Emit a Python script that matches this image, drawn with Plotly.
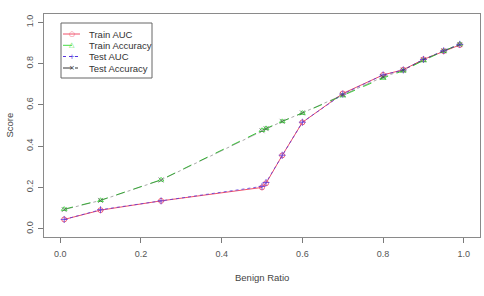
import plotly.graph_objects as go

benign_ratio = [0.01, 0.1, 0.25, 0.5, 0.51, 0.55, 0.6, 0.7, 0.8, 0.85, 0.9, 0.95, 0.99]
train_auc = [0.045, 0.09, 0.135, 0.2, 0.22, 0.355, 0.515, 0.655, 0.745, 0.77, 0.82, 0.86, 0.89]
train_acc = [0.095, 0.138, 0.237, 0.477, 0.486, 0.52, 0.56, 0.645, 0.73, 0.765, 0.815, 0.86, 0.895]
test_auc = [0.045, 0.092, 0.135, 0.205, 0.224, 0.356, 0.516, 0.652, 0.745, 0.769, 0.82, 0.862, 0.893]
test_acc = [0.093, 0.137, 0.236, 0.475, 0.485, 0.52, 0.561, 0.648, 0.735, 0.768, 0.818, 0.862, 0.892]
tick_vals = [0.0, 0.2, 0.4, 0.6, 0.8, 1.0]
tick_text = ["0.0", "0.2", "0.4", "0.6", "0.8", "1.0"]

# name, values, line colour, dash, symbol, legend glyph, line width, opacity
series = [
    ("Train AUC", train_auc, "#f0506a", "solid", "circle-open", "○", 1.0, 1.0),
    ("Train Accuracy", train_acc, "#44dd44", "dash", "triangle-up-open", "△", 1.0, 1.0),
    ("Test AUC", test_auc, "#5533dd", "dot", "cross-thin-open", "+", 0.9, 0.85),
    ("Test Accuracy", test_acc, "#333333", "dashdot", "x-thin-open", "×", 0.7, 0.6),
]

W, H = 484, 296
L, R, T, B = 44, 4, 14, 59
PW, PH = W - L - R, H - T - B

def px(x):
    return (x - L) / PW

def py(y):
    return 1 - (y - T) / PH

fig = go.Figure()
for name, vals, col, dash, sym, _, lw, op in series:
    fig.add_trace(go.Scatter(
        x=benign_ratio, y=vals, mode="lines+markers", name=name,
        line=dict(color=col, width=lw, dash=dash), opacity=op,
        marker=dict(symbol=sym, size=5, color=col, line=dict(color=col, width=0.9)),
        showlegend=False,
    ))

axis_common = dict(
    showgrid=False, zeroline=False, showline=True, mirror=True,
    linecolor="#8a8a8a", linewidth=1, ticks="outside", ticklen=5,
    tickcolor="#7a7a7a", tickfont=dict(family="Liberation Sans, Arial", size=9, color="#555555"),
    tickvals=tick_vals, ticktext=tick_text,
)
fig.update_xaxes(range=[-0.04, 1.04], ticklabelstandoff=3, **axis_common)
fig.update_yaxes(range=[-0.04, 1.04], tickangle=-90, ticklabelstandoff=1, **axis_common)

shapes = []
annotations = []
# legend box
shapes.append(dict(type="rect", xref="paper", yref="paper",
                   x0=px(61), x1=px(152), y0=py(78), y1=py(23),
                   line=dict(color="#666666", width=1), fillcolor="white"))
rows = [34, 45.3, 56.5, 68]
for (name, vals, col, dash, sym, glyph, lw, op), ry in zip(series, rows):
    shapes.append(dict(type="line", xref="paper", yref="paper",
                       x0=px(63), x1=px(80), y0=py(ry), y1=py(ry),
                       line=dict(color=col, width=1, dash=dash)))
    annotations.append(dict(xref="paper", yref="paper", x=px(71.5), y=py(ry),
                            text=glyph, showarrow=False, xanchor="center", yanchor="middle",
                            font=dict(family="DejaVu Sans", size=7, color=col)))
    annotations.append(dict(xref="paper", yref="paper", x=px(87), y=py(ry),
                            text=name, showarrow=False, xanchor="left", yanchor="middle",
                            font=dict(family="Liberation Sans, Arial", size=9.5, color="#333333")))

annotations.append(dict(xref="paper", yref="paper", x=px(262), y=py(277),
                        text="Benign Ratio", showarrow=False, xanchor="center", yanchor="middle",
                        font=dict(family="Liberation Sans, Arial", size=9.5, color="#444444")))
annotations.append(dict(xref="paper", yref="paper", x=px(9), y=py(125.5),
                        text="Score", showarrow=False, xanchor="center", yanchor="middle",
                        textangle=-90,
                        font=dict(family="Liberation Sans, Arial", size=9.5, color="#444444")))

fig.update_layout(
    width=W, height=H, margin=dict(l=L, r=R, t=T, b=B),
    plot_bgcolor="white", paper_bgcolor="white",
    shapes=shapes, annotations=annotations, showlegend=False,
)

fig.write_html("out.html")
